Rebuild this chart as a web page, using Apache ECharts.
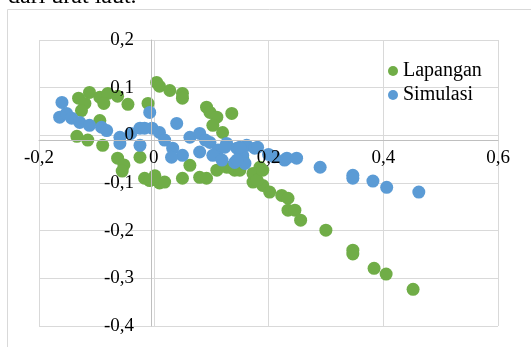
<!DOCTYPE html>
<html><head><meta charset="utf-8">
<script src="https://cdn.jsdelivr.net/npm/echarts@6/dist/echarts.min.js"></script>
<style>html,body{margin:0;padding:0;background:#fff}#c{width:531px;height:347px}</style>
</head><body><div id="c"></div>
<script>
const seriesNames = ['Lapangan', 'Simulasi'];
const xTicks = [-0.2, 0, 0.2, 0.4, 0.6];
const yTicks = [-0.4, -0.3, -0.2, -0.1, 0, 0.1, 0.2];
const lapanganX = [-0.131,-0.112,-0.094,-0.080,-0.063,-0.120,-0.087,-0.045,-0.126,-0.094,-0.134,-0.115,-0.089,-0.063,-0.052,-0.024,-0.016,-0.007,0.010,0.019,0.002,0.050,0.005,0.010,0.028,0.050,0.050,-0.010,0.092,0.098,0.110,0.136,0.103,0.120,0.063,0.080,0.092,0.110,0.133,0.155,0.127,0.141,0.150,0.185,0.173,0.190,0.202,0.223,0.234,0.234,0.246,0.256,0.300,0.347,0.347,0.384,0.405,0.452,0.173,0.180,0.190,-0.055];
const lapanganY = [0.078,0.090,0.080,0.088,0.082,0.067,0.067,0.065,0.052,0.031,-0.002,-0.010,-0.021,-0.048,-0.062,-0.046,-0.090,-0.095,-0.100,-0.098,-0.085,-0.090,0.111,0.103,0.094,0.088,0.078,0.067,0.059,0.048,0.038,0.046,0.021,0.006,-0.063,-0.088,-0.090,-0.073,-0.067,-0.048,-0.067,-0.073,-0.073,-0.067,-0.098,-0.105,-0.119,-0.126,-0.132,-0.157,-0.157,-0.178,-0.199,-0.241,-0.249,-0.279,-0.291,-0.323,-0.080,-0.094,-0.073,-0.075];
const simulasiX = [-0.160,-0.164,-0.152,-0.143,-0.129,-0.112,-0.091,-0.082,-0.059,-0.059,-0.040,-0.024,-0.024,-0.007,-0.003,-0.016,0.010,0.040,0.019,0.033,0.050,0.031,0.063,0.080,0.098,0.112,0.127,0.145,0.155,0.162,0.176,0.103,0.119,0.141,0.124,0.150,0.181,0.159,0.145,0.228,0.232,0.249,0.290,0.347,0.347,0.382,0.406,0.462,0.080,0.090,0.200,0.210];
const simulasiY = [0.069,0.038,0.046,0.036,0.027,0.021,0.017,0.010,-0.004,-0.017,0.004,0.015,-0.021,0.048,0.015,0.015,0.006,0.025,-0.010,-0.027,-0.042,-0.046,-0.004,0.004,-0.015,-0.031,-0.017,-0.027,-0.042,-0.021,-0.027,-0.042,-0.052,-0.057,-0.025,-0.025,-0.025,-0.059,-0.052,-0.052,-0.048,-0.048,-0.067,-0.084,-0.090,-0.096,-0.109,-0.119,-0.035,-0.010,-0.040,-0.045];

const pairs = (xs, ys) => xs.map((x, i) => [x, ys[i]]);
const fmt = v => { const r = Math.round(v * 10) / 10; return r === 0 ? '0' : r.toFixed(1).replace('.', ','); };
const FONT = 'Liberation Serif';
const xMin = xTicks[0], xMax = xTicks[xTicks.length - 1];
const yMin = yTicks[0], yMax = yTicks[yTicks.length - 1];

const chart = echarts.init(document.getElementById('c'));
const option = {
  animation: false,
  textStyle: { fontFamily: FONT },
  graphic: [
    { type: 'rect', shape: { x: 7.5, y: 9.5, width: 560, height: 400 }, style: { fill: 'none', stroke: '#d9d9d9', lineWidth: 1 }, silent: true, z: -10 },
    { type: 'text', x: 8, y: -15, style: { text: 'dari urat laut.', fontFamily: FONT, fontSize: 24, fill: '#000' }, silent: true }
  ],
  grid: { left: 39, right: 33, top: 40, bottom: 21 },
  legend: {
    orient: 'vertical', left: 383, top: 56, itemGap: 4,
    icon: 'circle', itemWidth: 10, itemHeight: 10,
    textStyle: { fontFamily: FONT, fontSize: 20, color: '#000' },
    data: seriesNames
  },
  xAxis: [
    {
      type: 'value', min: xMin, max: xMax, interval: 0.2, z: 10,
      axisLine: { onZero: false, lineStyle: { color: '#bfbfbf', width: 1 } },
      axisTick: { show: false },
      axisLabel: { formatter: fmt, fontFamily: FONT, fontSize: 19, color: '#000', margin: 9 },
      splitLine: { show: false }
    },
    {
      type: 'value', min: xMin, max: xMax, interval: 0.2, z: 0,
      axisLine: { show: false }, axisTick: { show: false }, axisLabel: { show: false },
      splitLine: { show: true, lineStyle: { color: '#d9d9d9', width: 1 } }
    }
  ],
  yAxis: [
    {
      type: 'value', min: yMin, max: yMax, interval: 0.1, z: 10,
      axisLine: { show: true, onZero: false, lineStyle: { color: '#bfbfbf', width: 1 } },
      axisTick: { show: false },
      axisLabel: { formatter: fmt, fontFamily: FONT, fontSize: 19, color: '#000', margin: 17 },
      splitLine: { show: false }
    },
    {
      type: 'value', min: yMin, max: yMax, interval: 0.1, z: 0,
      axisLine: { show: false }, axisTick: { show: false }, axisLabel: { show: false },
      splitLine: { show: true, lineStyle: { color: '#d9d9d9', width: 1 } }
    }
  ],
  series: [
    { name: seriesNames[0], type: 'scatter', xAxisIndex: 0, yAxisIndex: 0, symbol: 'circle', symbolSize: 13, itemStyle: { color: '#70AD47', opacity: 1 }, data: pairs(lapanganX, lapanganY), z: 2 },
    { name: seriesNames[1], type: 'scatter', xAxisIndex: 0, yAxisIndex: 0, symbol: 'circle', symbolSize: 13, itemStyle: { color: '#5B9BD5', opacity: 1 }, data: pairs(simulasiX, simulasiY), z: 3 }
  ]
};
chart.setOption(option);
// move the label-carrying axes onto the zero lines
const origin = chart.convertToPixel({ xAxisIndex: 0, yAxisIndex: 0 }, [0, 0]);
const gridRect = chart.getModel().getComponent('grid', 0).coordinateSystem.getRect();
chart.setOption({
  xAxis: [{ offset: -(gridRect.y + gridRect.height - origin[1]) }, {}],
  yAxis: [{ offset: -(origin[0] - gridRect.x) }, {}]
});
</script></body></html>
